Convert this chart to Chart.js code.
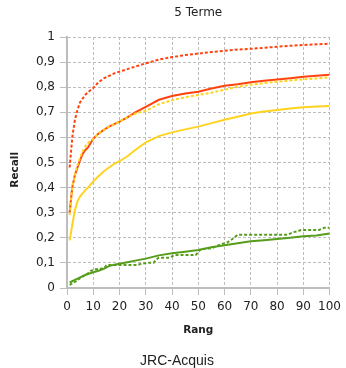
<!DOCTYPE html>
<html>
<head>
<meta charset="utf-8">
<script src="https://cdn.jsdelivr.net/npm/chart.js@4/dist/chart.umd.min.js"></script>
<style>
  html, body { margin: 0; padding: 0; background: #fff; overflow: hidden; }
  #wrap { position: relative; width: 346px; height: 368px; }
  #caption {
    position: absolute; left: 0; top: 352px; width: 354px;
    text-align: center; font: 14px "Liberation Sans", Arial, sans-serif;
    line-height: 16px; color: #222;
  }
</style>
</head>
<body>
<div id="wrap">
  <canvas id="recallChart" width="346" height="368"></canvas>
  <div id="caption">JRC-Acquis</div>
</div>
<script>
// rank positions shared by the smooth curves
const rang = [1, 2, 3, 4, 5, 6, 7, 8, 10, 12, 14, 16, 18, 20, 23, 26, 30, 35, 40, 45, 50, 55, 60, 65, 70, 75, 80, 85, 90, 95, 100];

const redDotted = [0.48, 0.60, 0.67, 0.71, 0.74, 0.755, 0.77, 0.78, 0.797, 0.82, 0.835, 0.845, 0.855, 0.862, 0.872, 0.882, 0.895, 0.91, 0.92, 0.928, 0.934, 0.94, 0.945, 0.95, 0.953, 0.957, 0.961, 0.965, 0.968, 0.971, 0.973];
const redSolid = [0.30, 0.40, 0.45, 0.48, 0.51, 0.535, 0.55, 0.56, 0.595, 0.615, 0.63, 0.643, 0.653, 0.663, 0.68, 0.70, 0.722, 0.75, 0.765, 0.775, 0.782, 0.795, 0.806, 0.812, 0.82, 0.826, 0.831, 0.836, 0.842, 0.846, 0.85];
const yellowDotted = [0.29, 0.40, 0.45, 0.49, 0.52, 0.545, 0.565, 0.578, 0.595, 0.615, 0.63, 0.643, 0.653, 0.663, 0.68, 0.695, 0.706, 0.732, 0.748, 0.76, 0.769, 0.778, 0.79, 0.802, 0.81, 0.816, 0.822, 0.827, 0.831, 0.835, 0.839];
const yellowSolid = [0.19, 0.25, 0.31, 0.345, 0.365, 0.378, 0.39, 0.40, 0.425, 0.445, 0.465, 0.48, 0.495, 0.505, 0.525, 0.55, 0.58, 0.605, 0.62, 0.632, 0.643, 0.657, 0.67, 0.682, 0.695, 0.703, 0.709, 0.715, 0.72, 0.723, 0.725];
const greenSolid = [0.022, 0.027, 0.032, 0.037, 0.042, 0.047, 0.052, 0.056, 0.063, 0.069, 0.076, 0.087, 0.093, 0.097, 0.103, 0.109, 0.117, 0.13, 0.138, 0.144, 0.151, 0.162, 0.17, 0.178, 0.186, 0.19, 0.195, 0.2, 0.206, 0.209, 0.217];

// the dotted green curve goes in steps, so it has its own ranks
const rangGreenDotted = [1, 4, 5, 8, 9, 11, 14, 15, 16, 27, 28, 31, 33, 34, 35, 39, 41, 49, 51, 55, 57, 59, 61, 63, 65, 84, 86, 88, 89, 96, 98, 100];
const greenDotted = [0.012, 0.03, 0.04, 0.058, 0.068, 0.075, 0.078, 0.09, 0.092, 0.092, 0.096, 0.101, 0.101, 0.114, 0.121, 0.121, 0.131, 0.131, 0.155, 0.158, 0.167, 0.175, 0.181, 0.195, 0.212, 0.212, 0.222, 0.226, 0.231, 0.231, 0.24, 0.24];

const xTicks = [0, 10, 20, 30, 40, 50, 60, 70, 80, 90, 100];

const RED = '#ff420e';
const YELLOW = '#ffd320';
const GREEN = '#579d1c';
const GRID = '#bdbdbd';
const TEXT = '#222';

function pts(xs, ys) {
  return xs.map((x, i) => ({ x: x, y: ys[i] }));
}

function serie(label, xs, ys, color, dotted) {
  return {
    label: label,
    data: pts(xs, ys),
    borderColor: color,
    backgroundColor: color,
    borderWidth: 2,
    borderDash: dotted ? [3, 2] : [],
    pointRadius: 0,
    tension: 0,
    fill: false
  };
}

const ctx = document.getElementById('recallChart').getContext('2d');
const chart = new Chart(ctx, {
  type: 'line',
  data: {
    datasets: [
      serie('greenDotted', rangGreenDotted, greenDotted, GREEN, true),
      serie('greenSolid', rang, greenSolid, GREEN, false),
      serie('yellowSolid', rang, yellowSolid, YELLOW, false),
      serie('yellowDotted', rang, yellowDotted, YELLOW, true),
      serie('redSolid', rang, redSolid, RED, false),
      serie('redDotted', rang, redDotted, RED, true)
    ]
  },
  options: {
    responsive: false,
    animation: false,
    layout: { padding: { left: 0, right: 11, top: 0, bottom: 18 } },
    plugins: {
      legend: { display: false },
      tooltip: { enabled: false },
      title: {
        display: true,
        text: '5 Terme',
        fullSize: false,
        color: TEXT,
        font: { family: 'DejaVu Sans', size: 12, weight: 'normal' },
        padding: { top: 6, bottom: 16.6 }
      }
    },
    scales: {
      x: {
        type: 'linear',
        min: 0,
        max: 100,
        afterBuildTicks: (scale) => { scale.ticks = xTicks.map(v => ({ value: v })); },
        afterFit: (scale) => { scale.height = 62; },
        ticks: {
          color: TEXT,
          font: { family: 'DejaVu Sans', size: 12 },
          padding: 5,
          maxRotation: 0
        },
        grid: {
          color: GRID,
          lineWidth: 1,
          tickLength: 7
        },
        // in v4 border.dash is the dash of the grid lines
        border: { display: true, color: GRID, width: 2, dash: [3, 2] },
        title: {
          display: true,
          text: 'Rang',
          color: TEXT,
          font: { family: 'DejaVu Sans', size: 10.5, weight: 'bold' },
          padding: { top: 0, bottom: 13.5 }
        }
      },
      y: {
        min: 0,
        max: 1,
        afterFit: (scale) => { scale.width = 67; },
        ticks: {
          stepSize: 0.1,
          color: TEXT,
          font: { family: 'DejaVu Sans', size: 12 },
          padding: 5,
          callback: (v) => {
            const r = Math.round(v * 10) / 10;
            if (r === 0) return '0';
            if (r === 1) return '1';
            return r.toFixed(1).replace('.', ',');
          }
        },
        grid: {
          color: GRID,
          lineWidth: 1,
          tickLength: 7
        },
        border: { display: true, color: GRID, width: 2, dash: [3, 2] },
        title: {
          display: true,
          text: 'Recall    ',
          color: TEXT,
          font: { family: 'DejaVu Sans', size: 10.5, weight: 'bold' },
          padding: { top: 9, bottom: 0 }
        }
      }
    }
  }
});
</script>
</body>
</html>
